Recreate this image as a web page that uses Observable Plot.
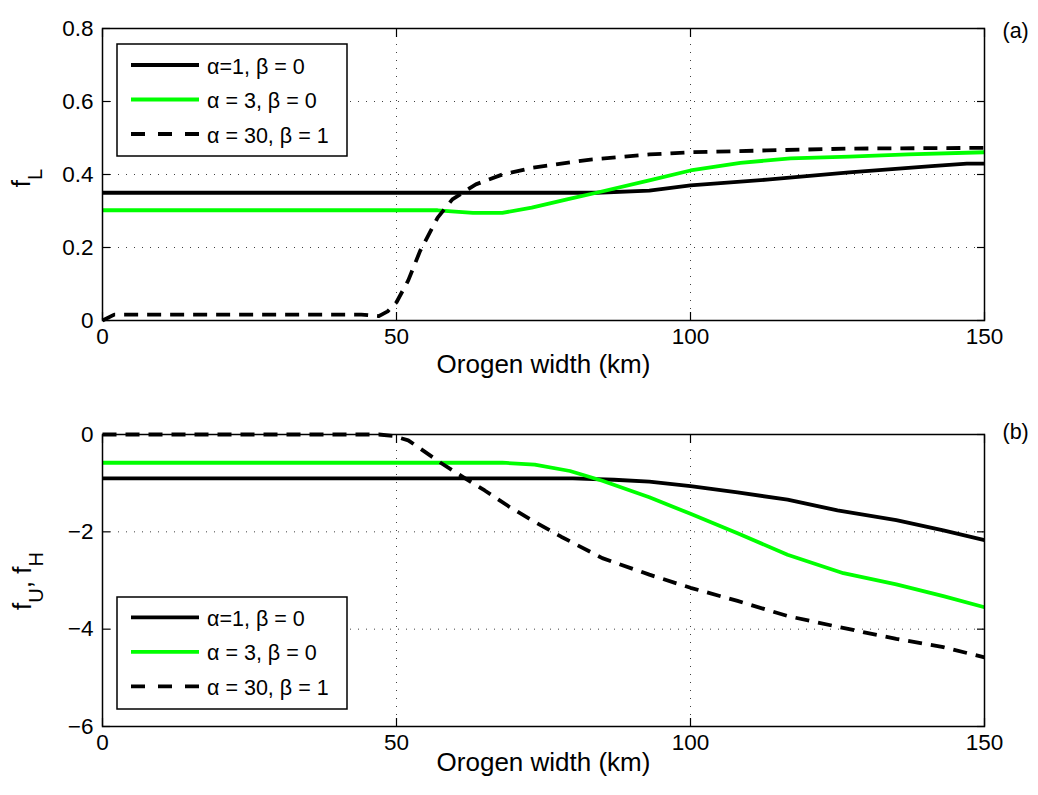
<!DOCTYPE html>
<html>
<head>
<meta charset="utf-8">
<script src="https://cdn.jsdelivr.net/npm/d3@7"></script>
<script src="https://cdn.jsdelivr.net/npm/@observablehq/plot@0.6"></script>
<style>
  body { margin: 0; background: #fff; }
  #chart svg { display: block; }
</style>
</head>
<body>
<div id="chart"></div>
<script>
// ---- data ----
const seriesNames = ["α=1, β = 0", "α = 3, β = 0", "α = 30, β = 1"];
const seriesColors = ["#000000", "#00ff00", "#000000"];
const seriesDash = [null, null, "14,9"];

const xTicks = [0, 50, 100, 150];
const yTicksA = [0, 0.2, 0.4, 0.6, 0.8];
const yTicksB = [-6, -4, -2, 0];
const xLabel = "Orogen width (km)";

// Panel (a): f_L
const a1X = [0, 84, 93, 100, 113, 127, 141, 147, 150];
const a1Y = [0.35, 0.35, 0.356, 0.37, 0.386, 0.406, 0.423, 0.43, 0.43];
const a2X = [0, 57, 60, 63, 68, 73, 79, 84, 93, 100, 108.5, 117, 127, 137, 150];
const a2Y = [0.302, 0.302, 0.298, 0.295, 0.295, 0.309, 0.332, 0.35, 0.384, 0.411, 0.432, 0.444, 0.449, 0.455, 0.461];
const a3X = [0, 2, 44, 47, 48.5, 50, 52, 54, 57, 59.5, 63.5, 68, 73, 83, 93, 100, 113, 127, 150];
const a3Y = [0, 0.016, 0.016, 0.012, 0.025, 0.05, 0.11, 0.19, 0.282, 0.332, 0.373, 0.4, 0.418, 0.441, 0.455, 0.461, 0.466, 0.471, 0.473];

// Panel (b): f_U, f_H
const b1X = [0, 80, 87, 93, 100, 108, 116.5, 125, 135, 143, 150];
const b1Y = [-0.9, -0.9, -0.93, -0.97, -1.06, -1.19, -1.34, -1.56, -1.76, -1.97, -2.17];
const b2X = [0, 68, 73.5, 79.5, 85, 93, 100, 108, 116.5, 126, 135, 143, 150];
const b2Y = [-0.58, -0.58, -0.62, -0.75, -0.95, -1.29, -1.63, -2.03, -2.47, -2.85, -3.08, -3.32, -3.55];
const b3X = [0, 47, 49.5, 52, 57.5, 61, 65, 69, 73, 78, 85, 93, 100, 108, 116.5, 125, 135, 143, 150];
const b3Y = [0, 0, -0.03, -0.12, -0.58, -0.85, -1.15, -1.47, -1.76, -2.1, -2.54, -2.88, -3.15, -3.42, -3.73, -3.95, -4.2, -4.37, -4.58];

// ---- build tables ----
function table(xs, ys) { return xs.map((x, i) => ({x, y: ys[i]})); }
const panelA = [table(a1X, a1Y), table(a2X, a2Y), table(a3X, a3Y)];
const panelB = [table(b1X, b1Y), table(b2X, b2Y), table(b3X, b3Y)];

const FONT = "'Liberation Sans', Arial, Helvetica, sans-serif";
const W = 1038, ML = 102, MR = 54;
const fmt = d => d < 0 ? "\u2212" + Math.abs(d) : String(d);

function panel({series, yDomain, yTicks, height, marginTop, marginBottom, tag, tagDy, xLabelDy}) {
  const gridStyle = {stroke: "#000", strokeOpacity: 0.75, strokeDasharray: "1,7", strokeWidth: 1};
  const marks = [
    Plot.gridX(xTicks, gridStyle),
    Plot.gridY(yTicks, gridStyle),
    ...series.map((d, i) => Plot.line(d, {
      x: "x", y: "y", stroke: seriesColors[i], strokeWidth: 3.8,
      strokeDasharray: seriesDash[i], strokeLinejoin: "round", strokeLinecap: "butt"
    })),
    Plot.frame({stroke: "#000", strokeWidth: 1.5}),
    Plot.axisX(xTicks, {anchor: "bottom", tickSize: -8, fill: "none", label: null, strokeWidth: 1.2}),
    Plot.axisX(xTicks, {anchor: "top", tickSize: -8, fill: "none", label: null, strokeWidth: 1.2}),
    Plot.axisY(yTicks, {anchor: "left", tickSize: -8, fill: "none", label: null, strokeWidth: 1.2}),
    Plot.axisY(yTicks, {anchor: "right", tickSize: -8, fill: "none", label: null, strokeWidth: 1.2}),
    Plot.axisX(xTicks, {anchor: "bottom", tickSize: 0, tickPadding: 8, label: null, fontSize: 22.5, stroke: "none", tickFormat: fmt}),
    Plot.axisY(yTicks, {anchor: "left", tickSize: 0, tickPadding: 9, label: null, fontSize: 22.5, stroke: "none", tickFormat: fmt}),
    Plot.text([xLabel], {frameAnchor: "bottom", dy: xLabelDy, fontSize: 26, fill: "#000"}),
    Plot.text([tag], {frameAnchor: "top-right", dx: 18, dy: tagDy, textAnchor: "start", fontSize: 21.5, fill: "#000"})
  ];
  return Plot.plot({
    width: W, height, marginLeft: ML, marginRight: MR, marginTop, marginBottom,
    x: {domain: [0, 150]},
    y: {domain: yDomain},
    style: `font-family: ${FONT}; font-size: 22px; color: #000; background: #fff; overflow: visible;`,
    marks
  });
}

function addLegend(svg, top, lineYs) {
  const g = d3.select(svg).append("g");
  g.append("rect").attr("x", 117).attr("y", top).attr("width", 230).attr("height", 112)
    .attr("fill", "#fff").attr("stroke", "#000").attr("stroke-width", 1.5);
  seriesNames.forEach((name, i) => {
    const y = lineYs[i];
    g.append("line").attr("x1", 131).attr("x2", 199).attr("y1", y).attr("y2", y)
      .attr("stroke", seriesColors[i]).attr("stroke-width", 3.8)
      .attr("stroke-dasharray", seriesDash[i] ? "14,13" : null);
    g.append("text").attr("x", 207).attr("y", y + 3).attr("dominant-baseline", "middle")
      .attr("text-anchor", "start")
      .attr("font-family", FONT).attr("font-size", 21.5).attr("fill", "#000").text(name);
  });
}

function addYLabel(svg, x, y, parts) {
  const t = d3.select(svg).append("text")
    .attr("transform", `translate(${x},${y}) rotate(-90)`)
    .attr("text-anchor", "middle").attr("font-family", FONT).attr("fill", "#000");
  let shifted = 0;
  parts.forEach(([txt, sub]) => {
    const target = sub ? 12 : 0;
    t.append("tspan").attr("dy", target - shifted).attr("font-size", sub ? 20 : 26).text(txt);
    shifted = target;
  });
}

const chart = document.getElementById("chart");

const svgA = panel({series: panelA, yDomain: [0, 0.8], yTicks: yTicksA, height: 395,
  marginTop: 28, marginBottom: 75, tag: "(a)", tagDy: -6, xLabelDy: 52});
chart.appendChild(svgA);
addLegend(svgA, 44, [65, 99.5, 134]);
addYLabel(svgA, 30, 178, [["f", false], ["L", true]]);

const svgB = panel({series: panelB, yDomain: [-6, 0], yTicks: yTicksB, height: 400,
  marginTop: 39, marginBottom: 69, tag: "(b)", tagDy: -11, xLabelDy: 44});
chart.appendChild(svgB);
addLegend(svgB, 202, [222.3, 256.8, 291.3]);
addYLabel(svgB, 31, 186, [["f", false], ["U", true], [", f", false], ["H", true]]);
</script>
</body>
</html>
